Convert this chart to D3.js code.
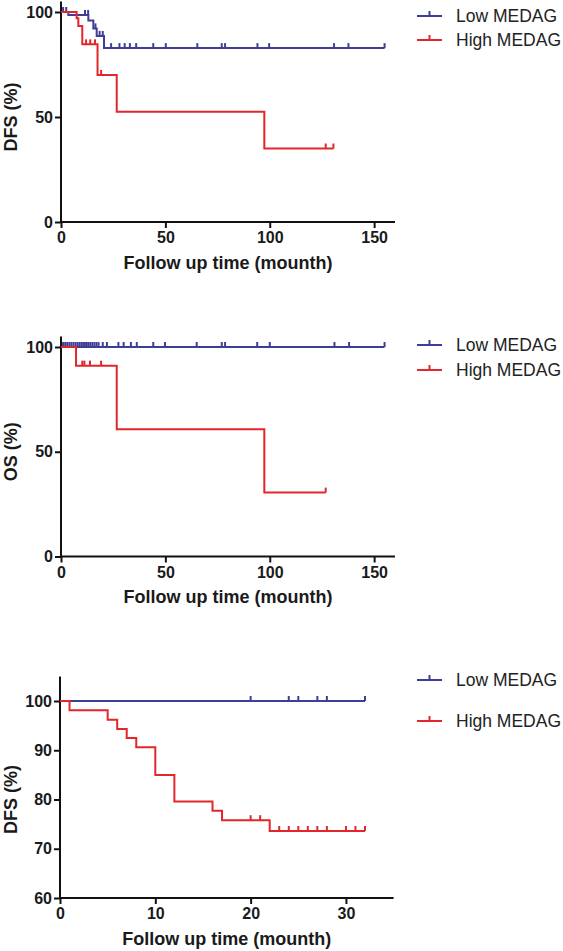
<!DOCTYPE html>
<html><head><meta charset="utf-8">
<script src="https://cdn.jsdelivr.net/npm/d3@7"></script>
<style>body{margin:0;background:#fff}svg{display:block}</style>
</head><body>
<script>
// ---- data ----
const seriesNames = ["Low MEDAG", "High MEDAG"];
const xTicksLong = [0, 50, 100, 150];
const xTicksShort = [0, 10, 20, 30];
const yTicksPct = [0, 50, 100];
const yTicksP3 = [60, 70, 80, 90, 100];

// Panel 1 (DFS, long follow-up)
const p1LowT = [0, 3.5, 13.1, 15.5, 17.1, 20.6, 155];
const p1LowS = [100, 98.6, 96, 92.2, 88.6, 82.8, 82.8];
const p1LowC = [1, 2.5, 11.5, 13, 16.5, 18.5, 20, 24, 28, 30.5, 33, 36, 44.2, 50.2, 65.3, 77, 78.6, 94.1, 99.7, 130.8, 137.7, 155];
const p1HighT = [0, 7.5, 8.3, 10.2, 17.5, 26.7, 97.4, 130.5];
const p1HighS = [100, 97, 93.3, 84.6, 70, 52.5, 35, 35];
const p1HighC = [12, 14, 16.3, 19.2, 126.8, 130.5];

// Panel 2 (OS)
const p2LowT = [0, 155];
const p2LowS = [100, 100];
const p2LowC = [1, 2, 3, 4, 5, 6, 7, 8, 9, 10, 11, 12, 13, 14, 15, 16, 17, 18, 20, 22, 27.5, 30, 33.5, 36.3, 44.2, 49.8, 65, 77, 78.6, 94, 100, 131, 138, 155];
const p2HighT = [0, 7.2, 26.7, 97.4, 126.8];
const p2HighS = [100, 91.1, 60.7, 30.5, 30.5];
const p2HighC = [10.2, 11.2, 13.9, 19.2, 126.8];

// Panel 3 (DFS, short follow-up)
const p3LowT = [0, 32];
const p3LowS = [100, 100];
const p3LowC = [20, 24, 25, 27, 28, 32];
const p3HighT = [0, 1, 5, 6, 7, 8, 10, 12, 16, 17, 22, 32];
const p3HighS = [100, 98.1, 96.2, 94.3, 92.5, 90.6, 85, 79.6, 77.7, 75.8, 73.6, 73.6];
const p3HighC = [20, 21, 23, 24, 25, 26, 27, 28, 30, 31, 32];

const colors = ["#3e3e96", "#e3262b"];
const FONT = "Arial, 'Liberation Sans', Helvetica, sans-serif";

const svg = d3.select("body").append("svg").attr("width", 563).attr("height", 951);

const panels = [
  {yLabel: "DFS (%)", xDom: [0, 160], xRange: [61, 395], yDom: [0, 105], yBase: 222, yPer: 2.1, yMin: 0, xTicks: xTicksLong, yTicks: yTicksPct,
   series: [[p1LowT, p1LowS, p1LowC], [p1HighT, p1HighS, p1HighC]], legY: [16, 40]},
  {yLabel: "OS (%)", xDom: [0, 160], xRange: [61, 395], yDom: [0, 105], yBase: 556.5, yPer: 2.095, yMin: 0, xTicks: xTicksLong, yTicks: yTicksPct,
   series: [[p2LowT, p2LowS, p2LowC], [p2HighT, p2HighS, p2HighC]], legY: [345, 370]},
  {yLabel: "DFS (%)", xDom: [0, 35], xRange: [60, 393.6], yDom: [60, 105], yBase: 898, yPer: 4.925, yMin: 60, xTicks: xTicksShort, yTicks: yTicksP3,
   series: [[p3LowT, p3LowS, p3LowC], [p3HighT, p3HighS, p3HighC]], legY: [680, 721]}
];

function stepVal(T, S, t) {
  let v = S[0];
  for (let i = 0; i < T.length; i++) { if (T[i] <= t) v = S[i]; }
  return v;
}

panels.forEach(p => {
  const x = d3.scaleLinear().domain(p.xDom).range(p.xRange);
  const y = d3.scaleLinear().domain(p.yDom)
    .range([p.yBase, p.yBase - (p.yDom[1] - p.yDom[0]) * p.yPer]);
  const g = svg.append("g");

  // axes
  const xAxis = g.append("g").attr("transform", `translate(0,${p.yBase})`)
    .call(d3.axisBottom(x).tickValues(p.xTicks).tickSize(6).tickPadding(4).tickFormat(d3.format("d")));
  const yAxis = g.append("g").attr("transform", `translate(${p.xRange[0]},0)`)
    .call(d3.axisLeft(y).tickValues(p.yTicks).tickSize(6).tickPadding(2).tickFormat(d3.format("d")));
  [xAxis, yAxis].forEach(a => {
    a.select(".domain").attr("stroke", "#111").attr("stroke-width", 2);
    a.selectAll(".tick line").attr("stroke", "#111").attr("stroke-width", 2);
    a.selectAll(".tick text").attr("fill", "#1a1a1a").style("font-family", FONT)
      .style("font-size", "16px").style("font-weight", "bold");
  });
  xAxis.select(".domain").attr("d", `M${p.xRange[0]},0H${p.xRange[1]}`);
  yAxis.select(".domain").attr("d", `M0,${y(p.yDom[0])}V${y(p.yDom[1])}`);

  // axis titles
  const midX = (p.xRange[0] + p.xRange[1]) / 2;
  g.append("text").attr("x", midX).attr("y", p.yBase + 46.5).attr("text-anchor", "middle")
    .style("font-family", FONT).style("font-size", "18px").style("font-weight", "bold").attr("fill", "#1a1a1a")
    .text("Follow up time (mounth)");
  const midY = (y(p.yMin) + y(100)) / 2;
  g.append("text").attr("transform", `translate(16.5,${midY}) rotate(-90)`).attr("text-anchor", "middle")
    .style("font-family", FONT).style("font-size", "18px").style("font-weight", "bold").attr("fill", "#1a1a1a")
    .text(p.yLabel);

  // curves
  const line = d3.line().x(d => x(d[0])).y(d => y(d[1])).curve(d3.curveStepAfter);
  p.series.forEach((s, i) => {
    const [T, S, C] = s;
    const pts = T.map((t, k) => [t, S[k]]);
    g.append("path").attr("d", line(pts)).attr("fill", "none")
      .attr("stroke", colors[i]).attr("stroke-width", 2);
    g.selectAll(null).data(C).enter().append("line")
      .attr("x1", d => x(d)).attr("x2", d => x(d))
      .attr("y1", d => y(stepVal(T, S, d))).attr("y2", d => y(stepVal(T, S, d)) - 5)
      .attr("stroke", colors[i]).attr("stroke-width", 2);
  });

  // legend
  seriesNames.forEach((name, i) => {
    const ly = p.legY[i];
    g.append("line").attr("x1", 417).attr("x2", 442).attr("y1", ly).attr("y2", ly)
      .attr("stroke", colors[i]).attr("stroke-width", 2);
    g.append("line").attr("x1", 429.5).attr("x2", 429.5).attr("y1", ly).attr("y2", ly - 5)
      .attr("stroke", colors[i]).attr("stroke-width", 2);
    g.append("text").attr("x", 456).attr("y", ly).attr("dy", "0.35em")
      .style("font-family", FONT).style("font-size", "17.5px").attr("fill", "#222").text(name);
  });
});
</script>
</body></html>
